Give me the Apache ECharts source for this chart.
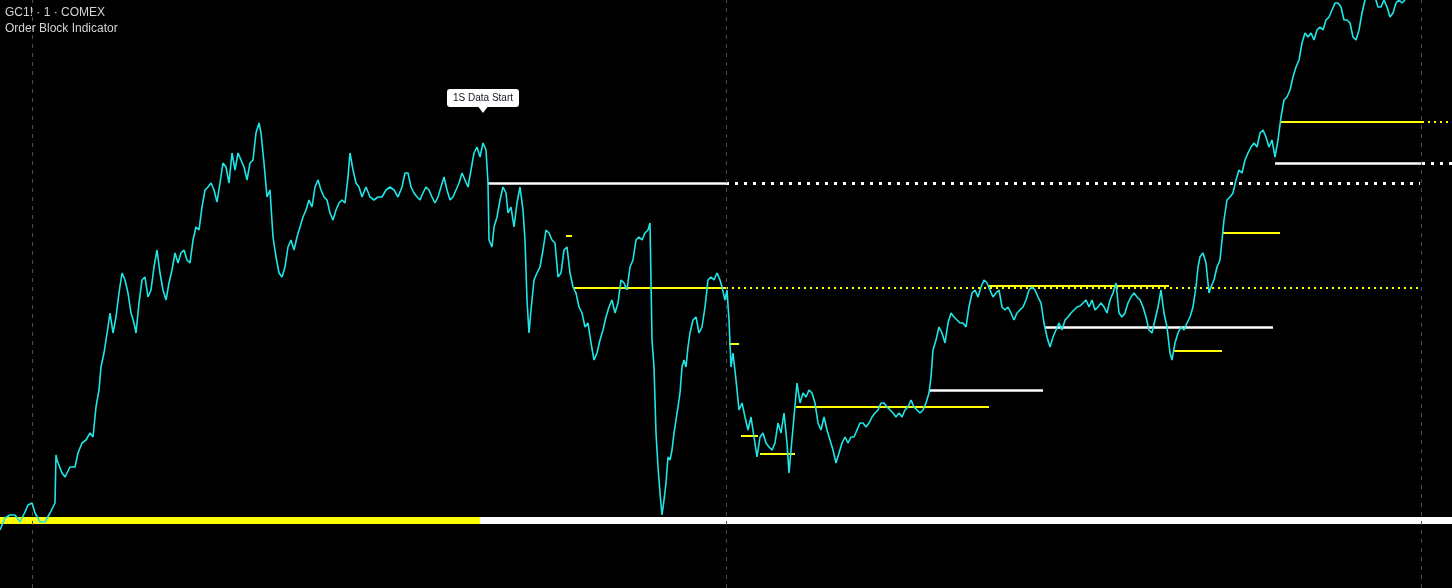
<!DOCTYPE html>
<html>
<head>
<meta charset="utf-8">
<script src="https://cdn.jsdelivr.net/npm/echarts@6/dist/echarts.min.js"></script>
<style>
html,body{margin:0;padding:0;background:#000;}
#chart{width:1452px;height:588px;}
</style>
</head>
<body>
<div id="chart"></div>
<script>
// GC1! 1-minute closes: [minute index, price]
const goldCloses = [
[0,2470],[5,2482],[10,2485],[15,2485],[20,2478],[25,2488],[28,2495],[32,2497],[35,2487],[40,2478],[45,2478],[50,2487],[55,2497],[56,2545],[57,2540],[62,2527],[65,2523],[70,2533],[75,2533],[78,2547],[82,2557],[86,2560],[90,2567],[93,2563],[96,2593],[99,2610],[101,2633],[104,2647],[108,2673],[110,2687],[113,2667],[116,2683],[119,2707],[122,2727],[125,2720],[128,2707],[131,2687],[134,2677],[136,2667],[139,2697],[142,2720],[145,2723],[148,2703],[151,2710],[154,2733],[157,2750],[160,2727],[163,2710],[166,2700],[169,2717],[172,2730],[175,2747],[178,2737],[181,2747],[184,2750],[187,2740],[190,2737],[193,2760],[196,2773],[199,2770],[202,2793],[205,2810],[208,2813],[211,2817],[214,2810],[217,2798],[220,2817],[223,2837],[226,2833],[229,2817],[232,2847],[235,2830],[238,2847],[241,2840],[244,2833],[247,2820],[250,2837],[253,2840],[256,2867],[259,2877],[261,2867],[264,2837],[267,2803],[270,2810],[273,2763],[276,2743],[279,2727],[282,2723],[285,2733],[288,2753],[291,2760],[294,2750],[297,2763],[300,2773],[303,2783],[306,2790],[309,2800],[312,2793],[315,2813],[318,2820],[321,2810],[324,2803],[327,2800],[330,2787],[333,2780],[336,2790],[339,2797],[342,2800],[345,2797],[348,2823],[350,2847],[353,2830],[356,2817],[359,2813],[362,2803],[366,2813],[370,2803],[374,2800],[378,2803],[382,2803],[386,2810],[390,2813],[394,2810],[398,2803],[402,2813],[405,2827],[408,2827],[411,2813],[414,2807],[417,2803],[420,2800],[423,2807],[426,2813],[429,2810],[432,2803],[435,2797],[438,2803],[441,2813],[444,2823],[447,2810],[450,2800],[453,2803],[456,2810],[459,2817],[462,2827],[465,2820],[468,2813],[471,2830],[474,2847],[477,2853],[480,2843],[483,2857],[486,2850],[488,2817],[489,2760],[492,2753],[494,2773],[497,2783],[500,2800],[503,2813],[506,2807],[508,2787],[511,2793],[514,2773],[517,2797],[520,2813],[523,2790],[525,2760],[527,2700],[529,2667],[531,2690],[534,2720],[537,2727],[540,2733],[543,2750],[546,2770],[549,2767],[552,2760],[555,2757],[558,2723],[561,2727],[564,2750],[567,2753],[570,2727],[573,2713],[576,2707],[579,2693],[582,2687],[585,2673],[588,2677],[591,2657],[594,2640],[597,2647],[600,2660],[603,2670],[606,2683],[609,2693],[612,2700],[615,2687],[618,2697],[621,2720],[624,2717],[627,2710],[630,2733],[633,2740],[636,2760],[639,2763],[642,2760],[645,2767],[648,2770],[650,2777],[652,2660],[654,2633],[656,2567],[658,2533],[660,2507],[662,2485],[664,2500],[666,2517],[668,2543],[670,2540],[672,2550],[674,2567],[676,2580],[678,2593],[680,2607],[682,2633],[684,2640],[686,2633],[688,2653],[690,2667],[693,2680],[696,2683],[699,2667],[702,2673],[705,2693],[708,2720],[711,2723],[714,2720],[717,2727],[720,2720],[722,2713],[725,2700],[727,2710],[729,2680],[731,2633],[733,2647],[736,2620],[739,2590],[742,2597],[745,2583],[748,2570],[751,2583],[754,2563],[757,2543],[760,2563],[763,2567],[766,2557],[769,2553],[772,2550],[775,2557],[778,2577],[781,2567],[784,2587],[787,2557],[789,2527],[791,2550],[794,2583],[797,2617],[800,2597],[803,2607],[806,2603],[809,2610],[812,2607],[815,2597],[818,2577],[821,2570],[824,2583],[827,2570],[830,2560],[833,2550],[836,2537],[839,2547],[842,2557],[845,2563],[848,2557],[851,2563],[854,2563],[857,2570],[860,2577],[863,2577],[866,2573],[869,2577],[872,2583],[875,2587],[878,2590],[881,2597],[884,2597],[887,2593],[890,2590],[893,2587],[896,2583],[899,2587],[902,2583],[905,2590],[908,2593],[911,2600],[914,2593],[917,2590],[920,2587],[923,2590],[926,2597],[929,2607],[931,2623],[933,2650],[936,2660],[939,2673],[942,2667],[945,2657],[948,2677],[951,2687],[954,2683],[957,2680],[960,2677],[963,2677],[966,2673],[969,2693],[972,2707],[975,2710],[978,2703],[981,2713],[984,2720],[987,2717],[990,2710],[993,2703],[996,2707],[999,2710],[1002,2693],[1005,2690],[1008,2693],[1011,2687],[1014,2680],[1017,2687],[1020,2690],[1023,2693],[1026,2700],[1029,2710],[1032,2713],[1035,2710],[1038,2703],[1041,2697],[1044,2677],[1047,2663],[1050,2653],[1053,2663],[1056,2670],[1059,2677],[1062,2670],[1065,2680],[1068,2683],[1071,2687],[1074,2690],[1077,2693],[1080,2694],[1083,2697],[1086,2700],[1089,2693],[1092,2700],[1095,2690],[1098,2693],[1101,2697],[1104,2693],[1107,2687],[1110,2700],[1113,2707],[1116,2717],[1119,2687],[1122,2683],[1125,2687],[1128,2697],[1131,2703],[1134,2707],[1137,2703],[1140,2700],[1143,2693],[1146,2683],[1149,2670],[1152,2667],[1155,2680],[1158,2693],[1161,2710],[1164,2687],[1167,2673],[1170,2647],[1172,2640],[1175,2657],[1178,2667],[1181,2673],[1184,2670],[1187,2677],[1190,2683],[1193,2693],[1196,2713],[1198,2733],[1200,2743],[1203,2747],[1206,2737],[1209,2707],[1211,2713],[1214,2720],[1217,2733],[1220,2740],[1222,2760],[1224,2780],[1227,2800],[1230,2803],[1233,2807],[1236,2820],[1239,2830],[1242,2827],[1245,2840],[1248,2847],[1251,2853],[1254,2857],[1257,2853],[1260,2867],[1263,2870],[1266,2863],[1269,2853],[1272,2860],[1275,2843],[1278,2860],[1281,2883],[1284,2900],[1287,2903],[1290,2910],[1293,2923],[1296,2933],[1299,2940],[1302,2957],[1305,2967],[1308,2963],[1311,2967],[1314,2960],[1317,2970],[1320,2973],[1323,2970],[1326,2980],[1329,2983],[1332,2990],[1335,2997],[1338,2997],[1341,2993],[1344,2980],[1347,2980],[1350,2977],[1353,2963],[1356,2960],[1359,2970],[1362,2987],[1365,3000],[1368,3005],[1372,3008],[1375,3003],[1378,2993],[1381,2993],[1384,3000],[1387,2993],[1390,2983],[1393,2987],[1396,2997],[1399,3000],[1402,2997],[1405,3000]
];

// Order blocks: [start minute, end minute, price]
const bearishBlocks = [[488,726,2817],[930,1043,2610],[1045,1273,2673],[1275,1422,2837]];
const bearishExtensions = [[726,1420,2817],[1422,1452,2837]];
const bullishBlocks = [[566,572,2764],[573,726,2712],[729,739,2656],[741,758,2564],[760,795,2546],[796,989,2593],[989,1169,2714],[1173,1222,2649],[1223,1280,2767],[1281,1422,2878]];
const bullishExtensions = [[726,1420,2712],[1422,1448,2878]];

// Session band (1S data availability)
const bandPrice = 2479.5;
const bandBefore = [0,480];
const bandAfter = [480,1452];

// Session separators (minute index)
const sessionBreaks = [32,726,1421];

// Annotation
const dataStartMinute = 483;
const dataStartPrice = 2857;
const dataStartText = '1S Data Start';

const titleText = 'GC1! · 1 · COMEX';
const subTitleText = 'Order Block Indicator';

const seg = (arr) => arr.map(s => ({coords: [[s[0], s[2]], [s[1], s[2]]]}));

const chart = echarts.init(document.getElementById('chart'), null, {renderer:'canvas'});
chart.setOption({
  backgroundColor: '#000000',
  animation: false,
  title: {
    text: titleText,
    subtext: subTitleText,
    left: 5, top: 7, itemGap: 4, padding: 0,
    textStyle: {fontSize: 12, color: '#d4d4d4', fontWeight: 'normal', fontFamily: 'Liberation Sans'},
    subtextStyle: {fontSize: 12, color: '#d4d4d4', fontFamily: 'Liberation Sans'}
  },
  grid: {left: 0, right: 0, top: 0, bottom: 0},
  xAxis: {type: 'value', min: 0, max: 1452, show: false},
  yAxis: {type: 'value', min: 2412, max: 3000, show: false, splitLine: {show: false}},
  series: [
    {
      type: 'lines', coordinateSystem: 'cartesian2d', z: 1,
      data: [{coords: [[bandBefore[0], bandPrice], [bandBefore[1], bandPrice]]}],
      lineStyle: {color: '#ffff00', width: 7, opacity: 1}, silent: true
    },
    {
      type: 'lines', coordinateSystem: 'cartesian2d', z: 1,
      data: [{coords: [[bandAfter[0], bandPrice], [bandAfter[1], bandPrice]]}],
      lineStyle: {color: '#ffffff', width: 7, opacity: 1}, silent: true
    },
    {
      type: 'lines', coordinateSystem: 'cartesian2d', z: 2,
      data: seg(bearishBlocks),
      lineStyle: {color: '#ffffff', width: 2.5, opacity: 1}, silent: true
    },
    {
      type: 'lines', coordinateSystem: 'cartesian2d', z: 2,
      data: seg(bearishExtensions),
      lineStyle: {color: '#ffffff', width: 3, type: [3,6], opacity: 1}, silent: true
    },
    {
      type: 'lines', coordinateSystem: 'cartesian2d', z: 2,
      data: seg(bullishBlocks),
      lineStyle: {color: '#ffff00', width: 2, opacity: 1}, silent: true
    },
    {
      type: 'lines', coordinateSystem: 'cartesian2d', z: 2,
      data: seg(bullishExtensions),
      lineStyle: {color: '#ffff00', width: 2, type: [2,4], opacity: 1}, silent: true
    },
    {
      type: 'line', z: 5,
      data: goldCloses,
      showSymbol: false,
      lineStyle: {color: '#1ee6e6', width: 1.6},
      silent: true,
      markLine: {
        silent: true, symbol: 'none', animation: false,
        label: {show: false},
        lineStyle: {color: '#4a4a4a', type: [4,5], width: 1},
        data: sessionBreaks.map(m => ({xAxis: m}))
      },
      markPoint: {
        silent: true, animation: false,
        data: [{
          coord: [dataStartMinute, dataStartPrice],
          symbol: 'triangle', symbolRotate: 180, symbolSize: [9, 6], symbolOffset: [0, -33],
          itemStyle: {color: '#ffffff'},
          label: {
            show: true, position: 'top', distance: 0,
            formatter: dataStartText,
            backgroundColor: '#ffffff', borderRadius: 3, padding: [3, 6, 3, 6],
            color: '#131722', fontSize: 10, fontFamily: 'Liberation Sans', lineHeight: 12
          }
        }]
      }
    }
  ]
});
</script>
</body>
</html>
